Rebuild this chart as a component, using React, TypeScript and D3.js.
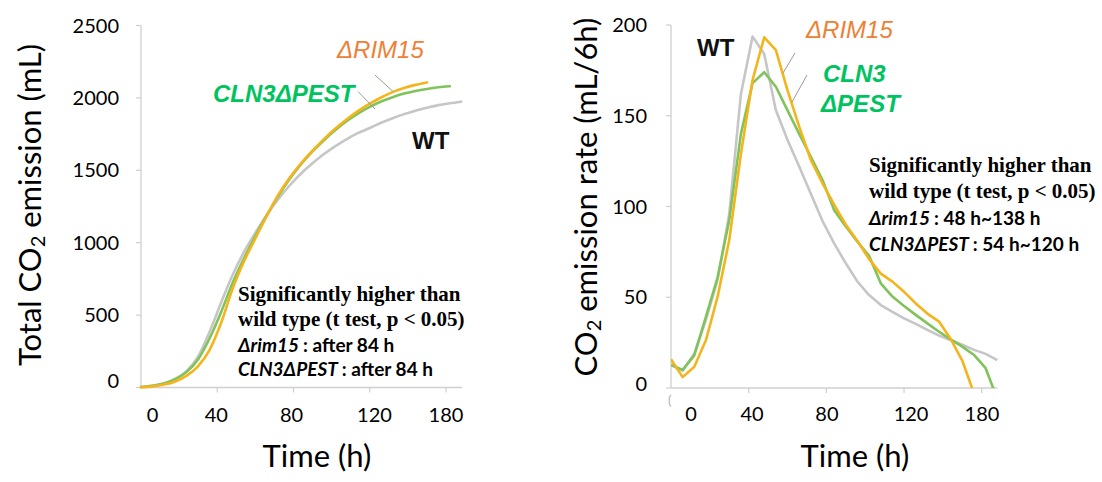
import React from "react";
import * as d3 from "d3";

// Sampling times (h), one reading every 6 h
const hours = [0, 6, 12, 18, 24, 30, 36, 42, 48, 54, 60, 66, 72, 78, 84, 90, 96, 102, 108, 114, 120, 126, 132, 138, 144, 150, 156, 162, 168];

// Total CO2 emission (mL)
const totalWT = [3, 12, 28, 60, 115, 215, 385, 585, 775, 935, 1070, 1192, 1300, 1395, 1478, 1548, 1612, 1667, 1716, 1758, 1792, 1828, 1860, 1888, 1912, 1932, 1950, 1963, 1974];
const totalRIM15 = [2, 8, 20, 42, 82, 148, 260, 445, 680, 870, 1030, 1185, 1330, 1448, 1548, 1635, 1715, 1788, 1852, 1910, 1960, 2003, 2040, 2068, 2090, 2107];
const totalCLN3 = [3, 12, 28, 58, 108, 195, 340, 520, 720, 890, 1045, 1190, 1322, 1440, 1542, 1630, 1708, 1778, 1840, 1893, 1938, 1975, 2005, 2030, 2048, 2062, 2073, 2080];

// CO2 emission rate (mL/6h)
const rateWT = [12.7, 9.5, 19, 37.5, 59.5, 96, 162, 193.6, 184, 153, 136.6, 122, 107, 92, 79.7, 68.7, 58.6, 51.2, 45.7, 42, 38.4, 35.3, 32, 28.9, 26.3, 23.8, 21, 18.8, 15.4];
const rateRIM15 = [15.8, 6, 11.7, 26.4, 50.3, 81.5, 129, 169.7, 193.2, 186.2, 164, 144, 125.6, 112.8, 101, 90, 81, 71, 63, 58.6, 53, 46.6, 41, 36.6, 27, 15, -3];
const rateCLN3 = [12.7, 10, 18, 39.3, 61, 92.6, 140, 168, 174, 166, 153, 140, 127.4, 114.6, 98, 89, 80.6, 72.8, 57.7, 50.4, 45.2, 40.3, 35.6, 31, 26.8, 22.8, 18.2, 10.9, -6];

// Axis ticks and labels
const totalTicks = [0, 500, 1000, 1500, 2000, 2500];
const rateTicks = [0, 50, 100, 150, 200];
const timeTicks = [40, 80, 120, 160];
const timeTickLabels = ["0", "40", "80", "120", "180"];

// Where each time label sits along the axis (h)
const totalLabelAt = [6, 39.5, 79, 122.5, 160];
const rateLabelAt = [10.3, 41.7, 80.3, 123.6, 160.1];

const SANS = "Lato, 'Open Sans', sans-serif";
const ARIAL = "'Liberation Sans', Arial, sans-serif";
const SERIF = "'Liberation Serif', 'Times New Roman', serif";

const C_WT = "#c6c6c8";
const C_RIM = "#f4b41c";
const C_CLN = "#80c35a";
const AXIS = "#cfcfcf";

type Pt = [number, number];
const zip = (vals: number[]): Pt[] => vals.map((v, i) => [hours[i], v]);

export default function App() {
  // Left panel: cumulative emission
  const xL = d3.scaleLinear().domain([0, 168]).range([141, 461.2]);
  const yL = d3.scaleLinear().domain([0, 2500]).range([387.5, 25.5]);
  // Right panel: emission rate
  const xR = d3.scaleLinear().domain([0, 168]).range([671, 997.3]);
  const yR = d3.scaleLinear().domain([0, 200]).range([388, 25]);

  const lineL = d3.line<Pt>().x(d => xL(d[0])).y(d => yL(d[1])).curve(d3.curveMonotoneX);
  const lineR = d3.line<Pt>().x(d => xR(d[0])).y(d => yR(d[1])).curve(d3.curveLinear);

  const totals = [
    { vals: totalWT, color: C_WT },
    { vals: totalCLN3, color: C_CLN },
    { vals: totalRIM15, color: C_RIM },
  ];
  const rates = [
    { vals: rateWT, color: C_WT },
    { vals: rateCLN3, color: C_CLN },
    { vals: rateRIM15, color: C_RIM },
  ];

  const tickFont = { fontFamily: SANS, fontSize: 20, fill: "#000" };

  return (
    <svg width={1102} height={482} style={{ position: "absolute", left: 0, top: 0, background: "#fff" }}>
      <defs>
        <clipPath id="rateClip">
          <rect x={xR(0)} y={0} width={xR(168) - xR(0) + 4} height={yR(0)} />
        </clipPath>
      </defs>

      {/* ===== Total CO2 emission ===== */}
      <g>
        <line x1={xL(0)} x2={xL(0)} y1={yL(2500)} y2={yL(0)} stroke={AXIS} strokeWidth={1.3} />
        <line x1={xL(0)} x2={xL(168) + 1} y1={yL(0)} y2={yL(0)} stroke={AXIS} strokeWidth={1.3} />
        {totalTicks.map(t => (
          <g key={t}>
            <line x1={xL(0) - 5} x2={xL(0)} y1={yL(t)} y2={yL(t)} stroke={AXIS} strokeWidth={1.2} />
            <text x={119} y={yL(t) + 7 - (t === 0 ? 7 : 0)} textAnchor="end" {...tickFont}>{t}</text>
          </g>
        ))}
        {timeTicks.map(t => (
          <line key={t} x1={xL(t)} x2={xL(t)} y1={yL(0)} y2={yL(0) + 5} stroke={AXIS} strokeWidth={1.2} />
        ))}
        {timeTickLabels.map((s, i) => (
          <text key={s} x={xL(totalLabelAt[i])} y={422} textAnchor="middle" {...tickFont}>{s}</text>
        ))}

        {totals.map((s, i) => (
          <path key={i} d={lineL(zip(s.vals)) || ""} fill="none" stroke={s.color} strokeWidth={2.6} strokeLinejoin="round" strokeLinecap="round" />
        ))}

        <text transform="translate(41,205) rotate(-90)" textAnchor="middle" fontFamily={SANS} fontSize={31} fill="#000">
          Total CO<tspan baselineShift="-22%" fontSize={20}>2</tspan> emission (mL)
        </text>
        <text x={317} y={467} textAnchor="middle" fontFamily={SANS} fontSize={31} fill="#000">Time (h)</text>

        {/* series labels with leader lines */}
        <line x1={375} y1={75} x2={393} y2={91.5} stroke="#9a9a9a" strokeWidth={1} />
        <line x1={358} y1={91.5} x2={375} y2={109} stroke="#9a9a9a" strokeWidth={1} />
        <text x={337} y={58} fontFamily={ARIAL} fontStyle="italic" fontSize={24} fill="#ee8036">ΔRIM15</text>
        <text x={213} y={102} fontFamily={ARIAL} fontStyle="italic" fontWeight="bold" fontSize={24} fill="#00c35f">CLN3ΔPEST</text>
        <text x={412} y={149} fontFamily={ARIAL} fontWeight="bold" fontSize={24} fill="#111">WT</text>

        <g fill="#000">
          <text x={238} y={301} fontFamily={SERIF} fontWeight="bold" fontSize={21}>Significantly higher than</text>
          <text x={238} y={325.5} fontFamily={SERIF} fontWeight="bold" fontSize={21}>wild type (t test, p &lt; 0.05)</text>
          <text x={238} y={351.5} fontFamily={SANS} fontWeight="bold" fontSize={19}>
            <tspan fontStyle="italic">Δrim15</tspan><tspan dx={4}>: after 84 h</tspan>
          </text>
          <text x={238} y={376} fontFamily={SANS} fontWeight="bold" fontSize={19}>
            <tspan fontStyle="italic">CLN3ΔPEST</tspan><tspan dx={4}>: after 84 h</tspan>
          </text>
        </g>
      </g>

      {/* ===== CO2 emission rate ===== */}
      <g>
        <line x1={xR(0)} x2={xR(0)} y1={yR(200)} y2={yR(0)} stroke={AXIS} strokeWidth={1.3} />
        <line x1={xR(0)} x2={xR(168)} y1={yR(0)} y2={yR(0)} stroke={AXIS} strokeWidth={1.3} />
        {rateTicks.map(t => (
          <g key={t}>
            <line x1={xR(0) - 5} x2={xR(0)} y1={yR(t)} y2={yR(t)} stroke={AXIS} strokeWidth={1.2} />
            <text x={647} y={yR(t) + 7 - (t === 0 ? 4 : 0)} textAnchor="end" {...tickFont}>{t}</text>
          </g>
        ))}
        {timeTicks.map(t => (
          <line key={t} x1={xR(t)} x2={xR(t)} y1={yR(0)} y2={yR(0) + 5} stroke={AXIS} strokeWidth={1.2} />
        ))}
        {timeTickLabels.map((s, i) => (
          <text key={s} x={xR(rateLabelAt[i])} y={421} textAnchor="middle" {...tickFont}>{s}</text>
        ))}
        <text x={xR(0) - 3} y={405} fontFamily={SANS} fontSize={13} fill="#b0b0b0">(</text>

        <g clipPath="url(#rateClip)">
          {rates.map((s, i) => (
            <path key={i} d={lineR(zip(s.vals)) || ""} fill="none" stroke={s.color} strokeWidth={2.6} strokeLinejoin="round" />
          ))}
        </g>

        <text transform="translate(597,197) rotate(-90)" textAnchor="middle" fontFamily={SANS} fontSize={31} fill="#000">
          CO<tspan baselineShift="-22%" fontSize={20}>2</tspan> emission rate (mL/6h)
        </text>
        <text x={855} y={467} textAnchor="middle" fontFamily={SANS} fontSize={31} fill="#000">Time (h)</text>

        <line x1={795} y1={53} x2={783} y2={73} stroke="#9a9a9a" strokeWidth={1} />
        <line x1={807} y1={75} x2={792} y2={102} stroke="#9a9a9a" strokeWidth={1} />
        <text x={697} y={56} fontFamily={ARIAL} fontWeight="bold" fontSize={24} fill="#111">WT</text>
        <text x={806} y={38} fontFamily={ARIAL} fontStyle="italic" fontSize={24} fill="#ee8036">ΔRIM15</text>
        <text x={823} y={82} fontFamily={ARIAL} fontStyle="italic" fontWeight="bold" fontSize={24} fill="#00c35f">CLN3</text>
        <text x={821} y={112} fontFamily={ARIAL} fontStyle="italic" fontWeight="bold" fontSize={24} fill="#00c35f">ΔPEST</text>

        <g fill="#000">
          <text x={869} y={172} fontFamily={SERIF} fontWeight="bold" fontSize={21}>Significantly higher than</text>
          <text x={869} y={198} fontFamily={SERIF} fontWeight="bold" fontSize={21}>wild type (t test, p &lt; 0.05)</text>
          <text x={869} y={225} fontFamily={SANS} fontWeight="bold" fontSize={19}>
            <tspan fontStyle="italic">Δrim15</tspan><tspan dx={4}>: 48 h~138 h</tspan>
          </text>
          <text x={869} y={251} fontFamily={SANS} fontWeight="bold" fontSize={19}>
            <tspan fontStyle="italic">CLN3ΔPEST</tspan><tspan dx={4}>: 54 h~120 h</tspan>
          </text>
        </g>
      </g>
    </svg>
  );
}
